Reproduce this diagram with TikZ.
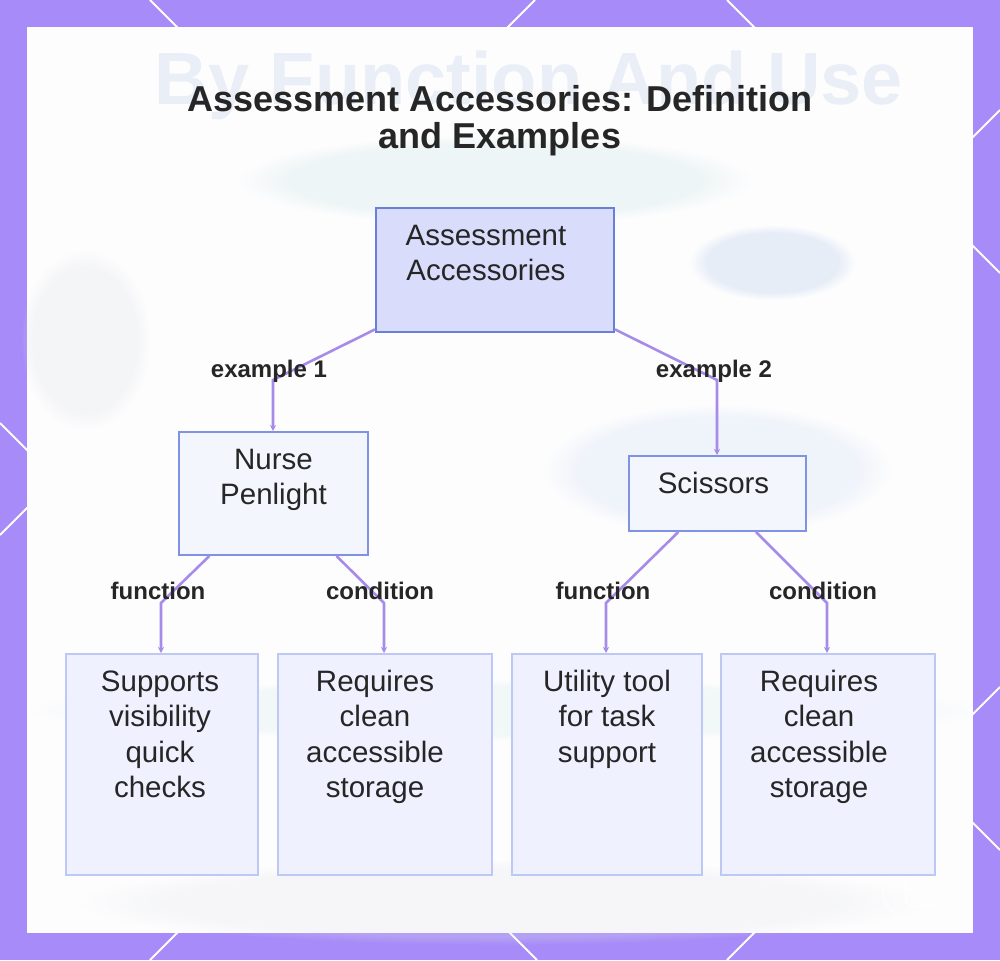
\documentclass[tikz,border=0pt]{standalone}
\usepackage{fontspec}
\setmainfont{Liberation Sans}
\usetikzlibrary{arrows.meta,fadings}

\definecolor{frame}{HTML}{A78BF8}
\definecolor{panel}{HTML}{FDFDFE}
\definecolor{wire}{HTML}{A68BE8}
\definecolor{rootfill}{HTML}{D9DCFB}
\definecolor{rootline}{HTML}{6A7FD6}
\definecolor{midfill}{HTML}{F4F6FE}
\definecolor{midline}{HTML}{7F92E4}
\definecolor{leaffill}{HTML}{EFF2FE}
\definecolor{leafline}{HTML}{BDC9F4}
\definecolor{ink}{HTML}{262626}
\definecolor{haze}{HTML}{D6E1F3}
\definecolor{hazetext}{HTML}{E9EEF7}
\definecolor{hazeteal}{HTML}{D9EAEA}
\definecolor{hazegray}{HTML}{E2E4E8}

% box text: fixed-size cell, lines set from the top; optional arg moves the
% centred lines to the left by half its value
\newcommand{\cell}[4][0pt]{\parbox[c][#3][t]{#2}{\vspace*{12.5pt}\fontsize{29.5}{35.5}\selectfont\centering\rightskip=#1 plus 1fil\strut #4\par}}

\tikzset{
  box/.style={draw, line width=2pt, inner sep=0pt, anchor=north west, text=ink},
  rootbox/.style={box, fill=rootfill, draw=rootline},
  midbox/.style={box, fill=midfill, draw=midline},
  leafbox/.style={box, fill=leaffill, draw=leafline},
  wire/.style={draw=wire, line width=2.6pt, -{Stealth[length=6pt,width=6pt]}},
  tag/.style={font=\fontsize{24}{28}\selectfont\bfseries, text=ink, inner sep=0pt, anchor=base},
  headline/.style={font=\fontsize{36}{40}\selectfont\bfseries, text=ink, inner sep=0pt, anchor=base},
  blob/.style={fill=#1, path fading=circle with fuzzy edge 20 percent},
  frameline/.style={draw=white, line width=2pt},
}

\begin{document}
\begin{tikzpicture}[x=1pt,y=-1pt]
\useasboundingbox (0,0) rectangle (1000,960);

% purple frame with white diagonal strokes
\fill[frame] (0,0) rectangle (1000,960);
\draw[frameline] (150,0) -- (1000,850);
\draw[frameline] (535,0) -- (0,535);
\draw[frameline] (727,0) -- (1000,273);
\draw[frameline] (150,960) -- (1000,110);
\draw[frameline] (0,423) -- (537,960);
\draw[frameline] (727,960) -- (1000,687);

% panel
\fill[panel] (27,27) rectangle (973,933);

% soft background haze
\node[font=\fontsize{74}{80}\selectfont\bfseries, text=hazetext, inner sep=0pt, anchor=base]
  (bgtitle) at (529,105) {By Function And Use};
\fill[blob=hazeteal, opacity=0.4] (240,135) rectangle (750,225);
\fill[blob=haze, opacity=0.55] (690,225) rectangle (855,300);
\fill[blob=haze, opacity=0.35] (545,405) rectangle (890,535);
\fill[blob=hazegray, opacity=0.3] (20,250) rectangle (150,430);
\fill[blob=hazegray, opacity=0.25] (80,860) rectangle (920,945);
\fill[blob=hazeteal, opacity=0.3] (30,680) rectangle (980,740);

% corner badge
\draw[white, line width=1pt, opacity=0.9] (925,884) circle (43);
\draw[white, line width=1.5pt, rounded corners=5pt, opacity=0.9] (906,864) rectangle (941,906);

% title
\node[headline] (title1) at (500,112) {Assessment Accessories: Definition};
\node[headline] (title2) at (500,149) {and Examples};

% boxes
\node[rootbox] (root) at (375,207) {\cell[18pt]{238pt}{124pt}{Assessment\\Accessories}};
\node[midbox] (pen) at (178,431) {\cell{189pt}{123pt}{Nurse\\Penlight}};
\node[midbox] (sci) at (628,455) {\cell[8pt]{177pt}{75pt}{Scissors}};
\node[leafbox] (l1) at (65,653)  {\cell[4pt]{192pt}{221pt}{Supports\\visibility\\quick\\checks}};
\node[leafbox] (l2) at (277,653) {\cell[20pt]{214pt}{221pt}{Requires\\clean\\accessible\\storage}};
\node[leafbox] (l3) at (511,653) {\cell{190pt}{221pt}{Utility tool\\for task\\support}};
\node[leafbox] (l4) at (720,653) {\cell[18pt]{214pt}{221pt}{Requires\\clean\\accessible\\storage}};

% bend points of the connectors
\coordinate (b1) at (273,380);
\coordinate (b2) at (717,380);
\coordinate (b3) at (161,603);
\coordinate (b4) at (384,603);
\coordinate (b5) at (606,603);
\coordinate (b6) at (827,603);

% connectors
\draw[wire] (root) -- (b1) -- (b1 |- pen.north);
\draw[wire] (root) -- (b2) -- (b2 |- sci.north);
\draw[wire] (pen) -- (b3) -- (b3 |- l1.north);
\draw[wire] (pen) -- (b4) -- (b4 |- l2.north);
\draw[wire] (sci) -- (b5) -- (b5 |- l3.north);
\draw[wire] (sci) -- (b6) -- (b6 |- l4.north);

% connector labels
\node[tag] (t1) at (269,377) {example 1};
\node[tag] (t2) at (714,377) {example 2};
\node[tag] (t3) at (158,599) {function};
\node[tag] (t4) at (380,599) {condition};
\node[tag] (t5) at (603,599) {function};
\node[tag] (t6) at (823,599) {condition};
\end{tikzpicture}
\end{document}
